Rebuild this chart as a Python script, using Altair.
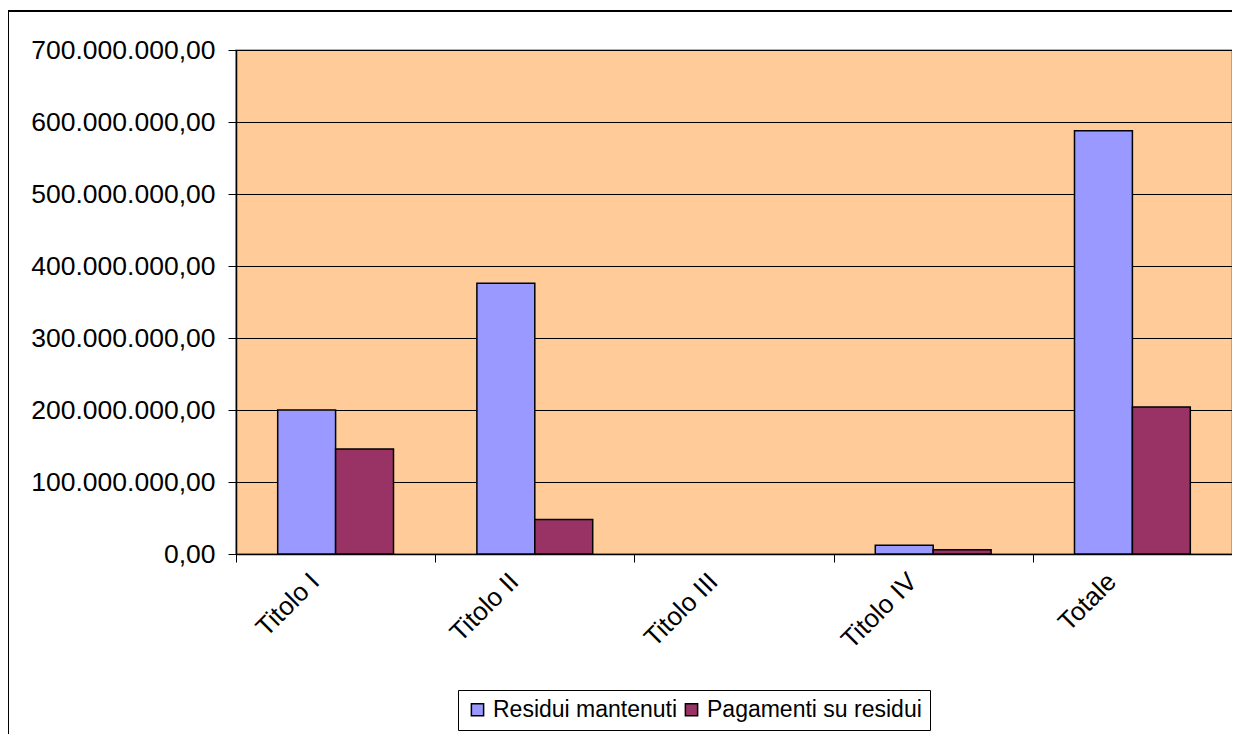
import altair as alt
import pandas as pd

categories = ["Titolo I", "Titolo II", "Titolo III", "Titolo IV", "Totale"]
residui_mantenuti = [200000000, 376000000, 0, 12000000, 588000000]
pagamenti_su_residui = [146000000, 48000000, 0, 6000000, 204000000]
series_names = ["Residui mantenuti", "Pagamenti su residui"]
series_colors = ["#9999FF", "#993366"]
y_ticks = [0, 100000000, 200000000, 300000000, 400000000, 500000000, 600000000, 700000000]

rows = []
for i, c in enumerate(categories):
    rows.append({"cat": c, "serie": series_names[0], "val": residui_mantenuti[i]})
    rows.append({"cat": c, "serie": series_names[1], "val": pagamenti_su_residui[i]})
df = pd.DataFrame(rows)

FONT = "Liberation Sans"

bars = alt.Chart(df).mark_bar(stroke="black", strokeWidth=1.5).encode(
    x=alt.X("cat:N", sort=categories, title=None,
            scale=alt.Scale(paddingInner=0, paddingOuter=0),
            axis=alt.Axis(labelAngle=-45, labelFontSize=26, labelFont=FONT,
                          labelColor="black", tickBand="extent", tickSize=8,
                          tickColor="black", domainColor="black", labelPadding=6,
                          labelOffset=-30, labelLimit=300,
                          tickWidth=1, domainWidth=1.5)),
    xOffset=alt.XOffset("serie:N", sort=series_names,
                        scale=alt.Scale(paddingOuter=0.72, paddingInner=0)),
    y=alt.Y("val:Q", title=None,
            scale=alt.Scale(domain=[0, 700000000], nice=False),
            axis=alt.Axis(values=y_ticks, format=",.2f", labelFontSize=26.5,
                          labelFont=FONT, labelColor="black", tickSize=8,
                          labelLimit=400,
                          tickColor="black", domainColor="black", domainWidth=1.5,
                          labelPadding=13, grid=True, gridColor="black",
                          gridWidth=1, gridOpacity=1)),
    strokeOpacity=alt.condition("datum.val == 0", alt.value(0), alt.value(1)),
    color=alt.Color("serie:N", sort=series_names,
                    scale=alt.Scale(domain=series_names, range=series_colors),
                    legend=alt.Legend(title=None, orient="none", legendX=222, legendY=640,
                                      direction="horizontal", columns=2,
                                      labelFontSize=23, labelFont=FONT, labelColor="black",
                                      labelLimit=500,
                                      symbolType="square", symbolSize=150,
                                      symbolStrokeColor="black", symbolStrokeWidth=1.5,
                                      strokeColor="black", padding=8,
                                      columnPadding=2, labelOffset=4)),
)

border_df = pd.DataFrame({"a": [0]})
top_line = alt.Chart(border_df).mark_rule(stroke="black", strokeWidth=2, clip=False).encode(
    x=alt.value(-229), x2=alt.value(1010), y=alt.value(-39)
)
left_line = alt.Chart(border_df).mark_rule(stroke="black", strokeWidth=2, clip=False).encode(
    x=alt.value(-228), y=alt.value(-40), y2=alt.value(690)
)

chart = alt.layer(bars, top_line, left_line).properties(
    width=996, height=504,
    autosize=alt.AutoSizeParams(type="none"),
    padding={"left": 228, "top": 42, "right": 0, "bottom": 180},
).configure(
    locale={"number": {"decimal": ",", "thousands": ".", "grouping": [3], "currency": ["", " €"]}}
).configure_view(
    fill="#FFCC99", stroke="#999999", strokeWidth=1.5
)

chart.save("out.html", embed_options={"renderer": "svg", "actions": False})
